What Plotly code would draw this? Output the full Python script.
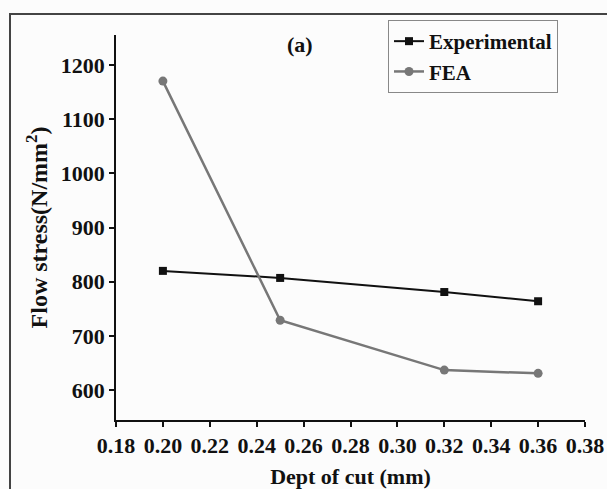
import plotly.graph_objects as go

# Depth of cut (mm) and flow stress (N/mm^2)
depth_of_cut = [0.20, 0.25, 0.32, 0.36]
experimental = [820, 807, 781, 764]
fea = [1170, 729, 637, 631]

x_ticks = [0.18, 0.20, 0.22, 0.24, 0.26, 0.28, 0.30, 0.32, 0.34, 0.36, 0.38]
y_ticks = [600, 700, 800, 900, 1000, 1100, 1200]

SERIF = "Liberation Serif, Times New Roman, serif"
W, H = 607, 489
L, R, T, B = 116, 22, 35, 69
plot_w = W - L - R
plot_h = H - T - B


def px_x(px):
    return (px - L) / plot_w


def px_y(py):
    return (H - B - py) / plot_h


fig = go.Figure()

fig.add_trace(go.Scatter(
    x=depth_of_cut, y=experimental, name="Experimental",
    mode="lines+markers",
    line=dict(color="#111111", width=2),
    marker=dict(symbol="square", size=8, color="#111111"),
))
fig.add_trace(go.Scatter(
    x=depth_of_cut, y=fea, name="FEA",
    mode="lines+markers",
    line=dict(color="#777777", width=2.5),
    marker=dict(symbol="circle", size=9, color="#777777"),
))

axis_common = dict(
    showline=True, linecolor="#111111", linewidth=1.5,
    ticks="outside", ticklen=5, tickwidth=1.5, tickcolor="#111111",
    showgrid=False, zeroline=False, mirror=False, automargin=False,
    tickfont=dict(family=SERIF, size=22, color="#111111"),
)

fig.update_xaxes(
    range=[0.18, 0.38], tickvals=x_ticks,
    ticktext=[f"<b>{v:.2f}</b>" for v in x_ticks],
    title=dict(text="<b>Dept of cut (mm)</b>",
               font=dict(family=SERIF, size=22, color="#111111"),
               standoff=14),
    **axis_common,
)
fig.update_yaxes(
    range=[545, 1255], tickvals=y_ticks,
    ticktext=[f"<b>{v}</b>" for v in y_ticks],
    title=dict(text="<b>Flow stress(N/mm<sup>2</sup>)</b>",
               font=dict(family=SERIF, size=24, color="#111111"),
               standoff=6),
    **axis_common,
)

# Outer panel frame (top and left edges visible)
fig.add_shape(
    type="rect", xref="paper", yref="paper",
    x0=px_x(10), x1=px_x(W + 20), y0=px_y(H + 20), y1=px_y(14),
    line=dict(color="#444444", width=2), fillcolor="rgba(0,0,0,0)",
    layer="below",
)

fig.add_annotation(
    text="<b>(a)</b>", xref="paper", yref="paper",
    x=px_x(300), y=px_y(44), xanchor="center", yanchor="middle",
    showarrow=False,
    font=dict(family=SERIF, size=22, color="#111111"),
)

fig.update_layout(
    width=W, height=H,
    margin=dict(l=L, r=R, t=T, b=B, autoexpand=False),
    paper_bgcolor="#fcfcfc", plot_bgcolor="#fcfcfc",
    showlegend=True,
    legend=dict(
        x=px_x(388), y=px_y(20), xanchor="left", yanchor="top",
        bgcolor="#fcfcfc", bordercolor="#888888", borderwidth=1,
        font=dict(family=SERIF, size=21, color="#111111", weight="bold"),
        tracegroupgap=0, itemwidth=30,
    ),
)

fig.write_html("out.html")
